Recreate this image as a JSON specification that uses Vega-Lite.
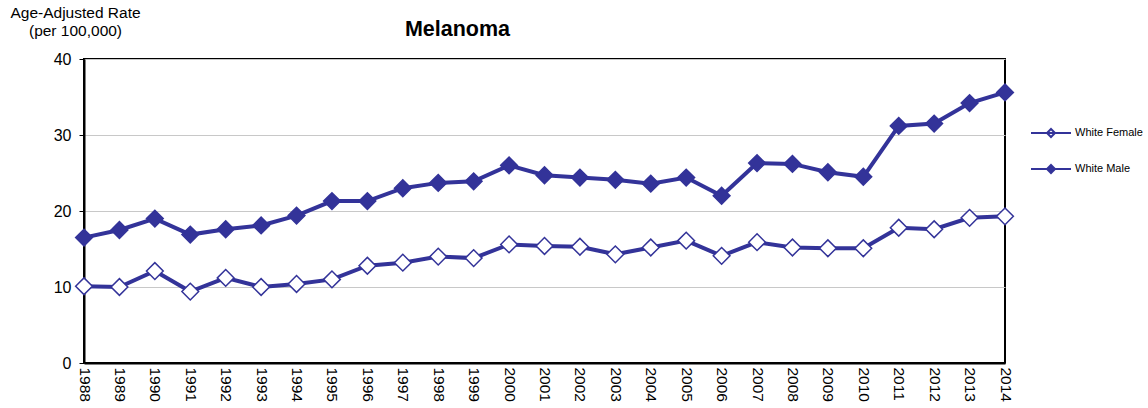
{
  "$schema": "https://vega.github.io/schema/vega-lite/v6.json",
  "width": 921,
  "height": 304,
  "autosize": {"type": "none"},
  "padding": {"left": 84, "top": 59, "right": 143, "bottom": 45},
  "background": "white",
  "config": {
    "font": "Liberation Sans",
    "view": {"stroke": "black", "strokeWidth": 2}
  },
  "title": {
    "text": "Melanoma",
    "fontSize": 21.5,
    "fontWeight": "bold",
    "font": "Liberation Sans",
    "color": "black",
    "anchor": "middle",
    "dx": -87,
    "offset": -35
  },
  "data": {
    "values": [
      {"year": 1988, "series": "White Female", "rate": 10.1},
      {"year": 1989, "series": "White Female", "rate": 10.0},
      {"year": 1990, "series": "White Female", "rate": 12.1},
      {"year": 1991, "series": "White Female", "rate": 9.4},
      {"year": 1992, "series": "White Female", "rate": 11.2},
      {"year": 1993, "series": "White Female", "rate": 10.0},
      {"year": 1994, "series": "White Female", "rate": 10.4},
      {"year": 1995, "series": "White Female", "rate": 11.0},
      {"year": 1996, "series": "White Female", "rate": 12.8},
      {"year": 1997, "series": "White Female", "rate": 13.2},
      {"year": 1998, "series": "White Female", "rate": 14.0},
      {"year": 1999, "series": "White Female", "rate": 13.8},
      {"year": 2000, "series": "White Female", "rate": 15.6},
      {"year": 2001, "series": "White Female", "rate": 15.4},
      {"year": 2002, "series": "White Female", "rate": 15.3},
      {"year": 2003, "series": "White Female", "rate": 14.3},
      {"year": 2004, "series": "White Female", "rate": 15.2},
      {"year": 2005, "series": "White Female", "rate": 16.1},
      {"year": 2006, "series": "White Female", "rate": 14.1},
      {"year": 2007, "series": "White Female", "rate": 15.9},
      {"year": 2008, "series": "White Female", "rate": 15.2},
      {"year": 2009, "series": "White Female", "rate": 15.1},
      {"year": 2010, "series": "White Female", "rate": 15.1},
      {"year": 2011, "series": "White Female", "rate": 17.8},
      {"year": 2012, "series": "White Female", "rate": 17.6},
      {"year": 2013, "series": "White Female", "rate": 19.1},
      {"year": 2014, "series": "White Female", "rate": 19.3},
      {"year": 1988, "series": "White Male", "rate": 16.5},
      {"year": 1989, "series": "White Male", "rate": 17.5},
      {"year": 1990, "series": "White Male", "rate": 19.0},
      {"year": 1991, "series": "White Male", "rate": 16.9},
      {"year": 1992, "series": "White Male", "rate": 17.6},
      {"year": 1993, "series": "White Male", "rate": 18.1},
      {"year": 1994, "series": "White Male", "rate": 19.4},
      {"year": 1995, "series": "White Male", "rate": 21.3},
      {"year": 1996, "series": "White Male", "rate": 21.3},
      {"year": 1997, "series": "White Male", "rate": 23.0},
      {"year": 1998, "series": "White Male", "rate": 23.7},
      {"year": 1999, "series": "White Male", "rate": 23.9},
      {"year": 2000, "series": "White Male", "rate": 26.0},
      {"year": 2001, "series": "White Male", "rate": 24.7},
      {"year": 2002, "series": "White Male", "rate": 24.4},
      {"year": 2003, "series": "White Male", "rate": 24.1},
      {"year": 2004, "series": "White Male", "rate": 23.6},
      {"year": 2005, "series": "White Male", "rate": 24.4},
      {"year": 2006, "series": "White Male", "rate": 22.0},
      {"year": 2007, "series": "White Male", "rate": 26.3},
      {"year": 2008, "series": "White Male", "rate": 26.2},
      {"year": 2009, "series": "White Male", "rate": 25.1},
      {"year": 2010, "series": "White Male", "rate": 24.5},
      {"year": 2011, "series": "White Male", "rate": 31.2},
      {"year": 2012, "series": "White Male", "rate": 31.5},
      {"year": 2013, "series": "White Male", "rate": 34.2},
      {"year": 2014, "series": "White Male", "rate": 35.6}
    ]
  },
  "encoding": {
    "x": {
      "field": "year",
      "type": "ordinal",
      "scale": {"type": "point", "padding": 0},
      "axis": {
        "title": null,
        "labelAngle": 90,
        "labelAlign": "left",
        "labelBaseline": "middle",
        "labelFontSize": 15.5,
        "labelColor": "black",
        "ticks": false,
        "labelPadding": 4,
        "domainColor": "black",
        "domainWidth": 2,
        "grid": false
      }
    },
    "y": {
      "field": "rate",
      "type": "quantitative",
      "scale": {"domain": [0, 40]},
      "axis": {
        "values": [0, 10, 20, 30, 40],
        "title": ["Age-Adjusted Rate", "(per 100,000)"],
        "titleAngle": 0,
        "titleX": -9,
        "titleY": -54,
        "titleAlign": "center",
        "titleBaseline": "top",
        "titleFontSize": 15.5,
        "titleFontWeight": "normal",
        "titleLineHeight": 18,
        "titleColor": "black",
        "labelFontSize": 16,
        "labelColor": "black",
        "labelPadding": 8,
        "tickSize": 5,
        "tickColor": "black",
        "domainColor": "black",
        "domainWidth": 2,
        "grid": true,
        "gridColor": "#c8c8c8"
      }
    }
  },
  "layer": [
    {
      "mark": {"type": "line", "color": "#333399", "strokeWidth": 4},
      "encoding": {"detail": {"field": "series"}}
    },
    {
      "mark": {
        "type": "point",
        "shape": "diamond",
        "filled": true,
        "stroke": "#333399",
        "strokeWidth": 1.5,
        "size": 280,
        "opacity": 1
      },
      "encoding": {
        "fill": {
          "field": "series",
          "type": "nominal",
          "scale": {"domain": ["White Female", "White Male"], "range": ["white", "#333399"]},
          "legend": {
            "title": null,
            "orient": "none",
            "legendX": 946,
            "legendY": 53,
            "symbolType": "M-1,0L1,0M0,-0.2L0.2,0L0,0.2L-0.2,0Z",
            "symbolSize": 1600,
            "symbolStrokeColor": "#333399",
            "symbolStrokeWidth": 2,
            "labelFontSize": 11,
            "labelColor": "black",
            "labelOffset": 3,
            "rowPadding": 7,
            "padding": 0
          }
        }
      }
    }
  ]
}
